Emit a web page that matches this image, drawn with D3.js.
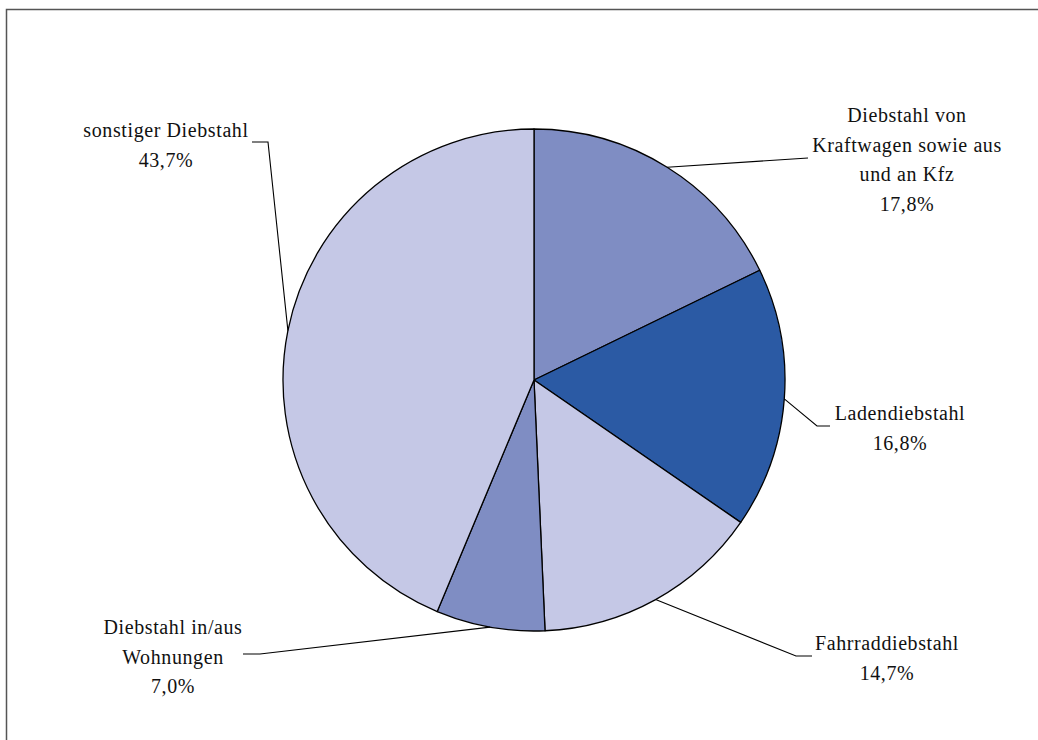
<!DOCTYPE html>
<html lang="de">
<head>
<meta charset="UTF-8">
<title>Diebstahl</title>
<script src="https://cdnjs.cloudflare.com/ajax/libs/d3/7.8.5/d3.min.js"></script>
<style>
  body { margin: 0; background: #fff; }
</style>
</head>
<body>
<svg id="chart" width="1038" height="740"></svg>
<script>
// data, clockwise from 12 o'clock
var categories = [
  ["Diebstahl von", "Kraftwagen sowie aus", "und an Kfz"],
  ["Ladendiebstahl"],
  ["Fahrraddiebstahl"],
  ["Diebstahl in/aus", "Wohnungen"],
  ["sonstiger Diebstahl"]
];
var shares = [17.8, 16.8, 14.7, 7.0, 43.7];
var colors = ["#7f8dc3", "#2b5aa4", "#c5c8e6", "#7f8dc3", "#c5c8e6"];

// label layout: elbow point, end of leader, text centre and first line y (relative to pie centre)
var labelLayout = [
  {elbow: [274, -222], end: [274, -222], tx: 373, ty: -265},
  {elbow: [283, 46], end: [296, 46], tx: 366, ty: 33},
  {elbow: [262, 276], end: [278, 276], tx: 353, ty: 263},
  {elbow: [-274, 274], end: [-291, 274], tx: -361, ty: 247},
  {elbow: [-266, -238], end: [-282, -238], tx: -368, ty: -250}
];

var svg = d3.select("#chart");
var cx = 534, cy = 380, r = 251;
var lineH = 29.5;

// frame (only top and left edges are visible)
svg.append("path")
  .attr("d", "M6.5,740 V9.5 H1038")
  .attr("fill", "none")
  .attr("stroke", "#555")
  .attr("stroke-width", 1.5);

var g = svg.append("g").attr("transform", `translate(${cx},${cy})`);

var pie = d3.pie().sort(null).value(d => d)(shares);
var arc = d3.arc().innerRadius(0).outerRadius(r);

g.selectAll("path.slice").data(pie).enter()
  .append("path")
  .attr("class", "slice")
  .attr("d", arc)
  .attr("fill", (d, i) => colors[i])
  .attr("stroke", "#000")
  .attr("stroke-width", 1.3)
  .attr("stroke-linejoin", "round");

var fmt = v => d3.format(".1f")(v).replace(".", ",") + "%";

pie.forEach(function(d, i) {
  var a = (d.startAngle + d.endAngle) / 2;
  var p = [r * Math.sin(a), -r * Math.cos(a)];
  var L = labelLayout[i];
  g.append("path")
    .attr("d", d3.line()([p, L.elbow, L.end]))
    .attr("fill", "none")
    .attr("stroke", "#000")
    .attr("stroke-width", 1.1);

  var lines = categories[i].concat([fmt(shares[i])]);
  var t = g.append("text")
    .attr("text-anchor", "middle")
    .attr("font-family", "'Liberation Serif', 'DejaVu Serif', serif")
    .attr("font-size", 20)
    .attr("letter-spacing", 0.6)
    .attr("fill", "#111");
  lines.forEach(function(s, k) {
    t.append("tspan")
      .attr("x", L.tx)
      .attr("y", L.ty + k * lineH)
      .attr("dominant-baseline", "central")
      .text(s);
  });
});
</script>
</body>
</html>
